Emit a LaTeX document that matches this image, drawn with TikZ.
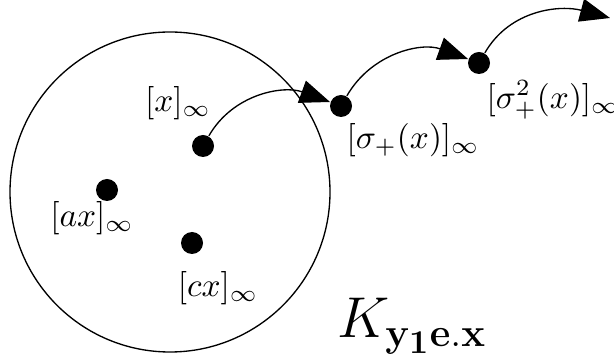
\documentclass[tikz,border=0pt]{standalone}
\usetikzlibrary{arrows.meta}
\begin{document}
\begin{tikzpicture}[x=0.3pt,y=-0.3pt,
 pt/.style={circle,fill,inner sep=0pt,minimum size=6.6pt},
 jump/.style={-{Triangle[length=9pt,width=7pt]},out=60,in=160}]
\useasboundingbox (0,0) rectangle (614,364);
\draw (170,192) circle [radius=48pt];
% points of the orbit
\node[pt](x)at(203,146){};\node[pt](ax)at(107,190){};\node[pt](cx)at(192,243){};
\node[pt](s1)at(341,106){};\node[pt](s2)at(479,63){};
\coordinate(s3)at(610,18);
\node at(178,103){$[x]_\infty$};\node at(92,218){$[ax]_\infty$};\node at(218,288){$[cx]_\infty$};
\node at(413,140){$[\sigma_+(x)]_\infty$};\node at(553,100){$[\sigma_+^2(x)]_\infty$};
\node[font=\LARGE] at(412,326){$K_{\mathbf{y_1e.x}}$};
\draw[jump](x)to(s1);\draw[jump](s1)to(s2);\draw[jump,in=165](s2)to(s3);
\end{tikzpicture}
\end{document}
